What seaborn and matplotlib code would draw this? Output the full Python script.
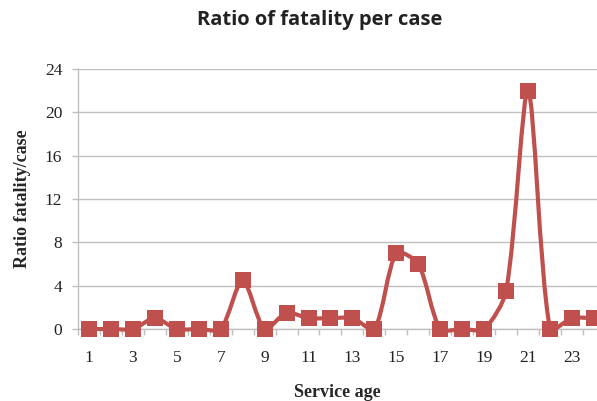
import numpy as np
import matplotlib
matplotlib.use('Agg')
import matplotlib.pyplot as plt
from matplotlib.path import Path
from matplotlib.patches import PathPatch
import seaborn as sns

service_age = [1, 2, 3, 4, 5, 6, 7, 8, 9, 10, 11, 12, 13, 14, 15, 16, 17, 18, 19, 20, 21, 22, 23, 24]
ratio = [0, 0, 0, 1, 0, 0, 0, 4.5, 0, 1.5, 1, 1, 1, 0, 7, 6, 0, 0, 0, 3.5, 22, 0, 1, 1]
x_tick_labels = ['1', '3', '5', '7', '9', '11', '13', '15', '17', '19', '21', '23']
y_ticks = [0, 4, 8, 12, 16, 20, 24]

red = '#C0504D'
grey = '#BFBFBF'

sns.set_style('white')
plt.rcParams['font.family'] = ['Liberation Serif', 'DejaVu Serif']

fig = plt.figure(figsize=(5.97, 4.01), dpi=100)
ax = fig.add_axes([78 / 597, 72 / 401, 1 - 78 / 597, 260 / 401])
ax.set_xlim(0.5, 24.14)
ax.set_ylim(0, 24)


def smooth_path(ax, xs, ys, f=0.27):
    # excel-like smoothed line, control points scaled by chord length in screen space
    to_px = ax.transData
    pts = to_px.transform(np.column_stack([xs, ys]).astype(float))
    n = len(pts)
    verts = [pts[0]]
    codes = [Path.MOVETO]
    for i in range(n - 1):
        p0 = pts[i - 1] if i > 0 else pts[i]
        p1 = pts[i]
        p2 = pts[i + 1]
        p3 = pts[i + 2] if i + 2 < n else pts[i + 1]
        d01 = np.hypot(*(p1 - p0))
        d12 = np.hypot(*(p2 - p1))
        d23 = np.hypot(*(p3 - p2))
        c1 = p1 + (p2 - p0) * f * (d12 / (d01 + d12) if d01 + d12 > 0 else 0)
        c2 = p2 - (p3 - p1) * f * (d12 / (d12 + d23) if d12 + d23 > 0 else 0)
        verts += [c1, c2, p2]
        codes += [Path.CURVE4] * 3
    verts = to_px.inverted().transform(np.array(verts))
    return Path(verts, codes)


ax.add_patch(PathPatch(smooth_path(ax, service_age, ratio), facecolor='none',
                       edgecolor=red, lw=3, zorder=3, clip_on=False, capstyle='round'))
sns.scatterplot(x=service_age, y=ratio, marker='s', s=120, color=red,
                edgecolor=red, linewidth=0, ax=ax, zorder=4, clip_on=False)

ax.set_yticks(y_ticks)
ax.set_xticks(range(1, 25, 2))
ax.set_xticklabels(x_tick_labels)
ax.set_xticks(np.arange(0.5, 24.5, 1), minor=True)
ax.yaxis.grid(True, color=grey, lw=1)
ax.set_axisbelow(True)

for s in ['top', 'right']:
    ax.spines[s].set_visible(False)
for s in ['left', 'bottom']:
    ax.spines[s].set_color(grey)
    ax.spines[s].set_linewidth(1)

ax.tick_params(axis='y', which='major', length=4.3, width=1, color=grey,
               direction='out', left=True, pad=7, labelsize=12.5, labelcolor='#222222')
ax.tick_params(axis='x', which='major', length=0, pad=15, labelsize=12.5, labelcolor='#222222')
ax.tick_params(axis='x', which='minor', length=4, width=1, color=grey,
               direction='out', bottom=True)

ax.set_xlabel('Service age', fontsize=13, fontweight='bold', labelpad=13)
ax.set_ylabel('Ratio fatality/case', fontsize=13, fontweight='bold', labelpad=10)

fig.text(320 / 597, 1 - 20 / 401, 'Ratio of fatality per case', ha='center', va='center',
         fontsize=14.5, fontweight='bold', family=['Open Sans', 'DejaVu Sans'], color='#222222')

fig.savefig('out.png', dpi=100)
